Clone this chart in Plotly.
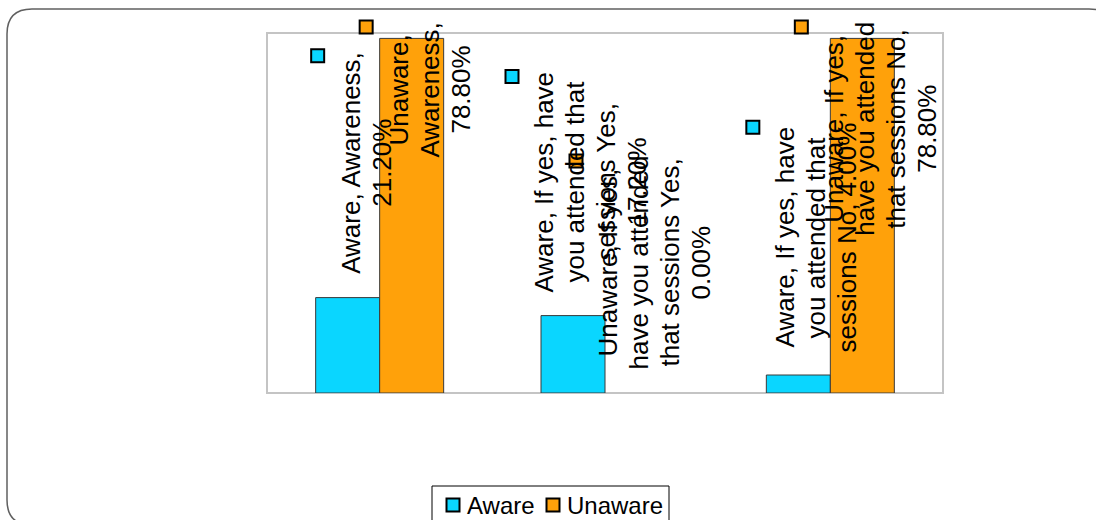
import plotly.graph_objects as go

# ---------------- data ----------------
categories = ["Awareness",
              "If yes, have you attended that sessions Yes",
              "If yes, have you attended that sessions No"]
series_names = ["Aware", "Unaware"]
aware_values = [21.20, 17.20, 4.00]
unaware_values = [78.80, 0.00, 78.80]
series_values = [aware_values, unaware_values]
series_colors = ["#0AD6FF", "#FFA10A"]

# ---------------- layout geometry ----------------
W, H = 1096, 520
ML, MR, MT, MB = 267, 153, 33, 127
PW, PH = W - ML - MR, H - MT - MB
YMAX = 80
XMIN, XMAX = -0.5, 2.5
PX_X = PW / (XMAX - XMIN)   # pixels per x unit
PX_Y = PH / YMAX            # pixels per y unit
BARGAP = 0.432
BAR_W = (1 - BARGAP) / 2    # in x units
FONT = "Liberation Sans, Arial, sans-serif"
LBL_SIZE = 26
LINE_H = 31
MAX_EM = 8.86
KEY = 13  # px size of legend-key squares

# Arial advance widths (em)
AW = {' ': .278, ',': .278, '.': .278, '%': .889, 'A': .667, 'I': .278, 'N': .722,
      'U': .722, 'Y': .667, 'a': .556, 'd': .556, 'e': .556, 'f': .278, 'h': .556,
      'i': .222, 'n': .556, 'o': .556, 'r': .333, 's': .5, 't': .278, 'v': .5,
      'w': .722, 'y': .5}


def em(s):
    return sum(AW.get(c, .556) for c in s)


def wrap(text):
    lines, cur = [], ""
    for word in text.split(" "):
        cand = word if not cur else cur + " " + word
        if em(cand) <= MAX_EM or not cur:
            cur = cand
        else:
            lines.append(cur)
            cur = word
    lines.append(cur)
    return lines


def X(px):
    return (px - ML) / PW


def Y(py):
    return (H - MB - py) / PH


def key_shape(px, py, col):
    h = KEY / 2
    return dict(type="rect", xref="paper", yref="paper",
                x0=X(px - h), x1=X(px + h), y0=Y(py + h), y1=Y(py - h),
                fillcolor=col, line=dict(color="black", width=2), layer="above")


fig = go.Figure()
for name, vals, col in zip(series_names, series_values, series_colors):
    fig.add_trace(go.Bar(
        x=list(range(len(categories))), y=vals, name=name, showlegend=False,
        marker=dict(color=col,
                    line=dict(color="#3a3a3a", width=[1 if v > 0 else 0 for v in vals])),
        hoverinfo="skip",
    ))

annotations = []
shapes = []
for si, (name, vals, col) in enumerate(zip(series_names, series_values, series_colors)):
    for ci, (cat, v) in enumerate(zip(categories, vals)):
        lines = wrap(f"{name}, {cat}, {v:.2f}%")
        n = len(lines)
        half = max(em(l) for l in lines) * LBL_SIZE / 2
        bar_cx = ci + (si - 0.5) * BAR_W
        lbl_cx_px = 18
        # label center, in pixels below the top of the plot area
        top_px = (YMAX - v) * PX_Y
        cy = top_px - 23 - half
        cy = max(cy, (22 - MT) + half)
        y_center = YMAX - cy / PX_Y
        for j, line in enumerate(lines):
            off = (j - (n - 1) / 2) * LINE_H
            annotations.append(dict(
                x=bar_cx, y=y_center, xref="x", yref="y", text=line,
                showarrow=False, textangle=-90, xanchor="center", yanchor="middle",
                xshift=lbl_cx_px + off, font=dict(family=FONT, size=LBL_SIZE, color="black"),
            ))
        # legend key of the data label (page pixels)
        bar_cx_px = ML + (bar_cx - XMIN) * PX_X
        kx = bar_cx_px + lbl_cx_px - (n * LINE_H / 2 + 17)
        ky = MT + cy - half + 5
        shapes.append(key_shape(kx, ky, col))

# rounded outer frame
l, t, r, b, rad = 7, 9, 1114, 525, 25
frame = (f"M {X(l+rad)},{Y(t)} L {X(r-rad)},{Y(t)} Q {X(r)},{Y(t)} {X(r)},{Y(t+rad)} "
         f"L {X(r)},{Y(b-rad)} Q {X(r)},{Y(b)} {X(r-rad)},{Y(b)} "
         f"L {X(l+rad)},{Y(b)} Q {X(l)},{Y(b)} {X(l)},{Y(b-rad)} "
         f"L {X(l)},{Y(t+rad)} Q {X(l)},{Y(t)} {X(l+rad)},{Y(t)} Z")
shapes += [
    dict(type="path", xref="paper", yref="paper", path=frame,
         line=dict(color="#606060", width=1.5), layer="below"),
    dict(type="rect", xref="paper", yref="paper", x0=0, x1=1, y0=0, y1=1,
         line=dict(color="#c4c4c4", width=2), layer="below"),
]

# legend (box, keys, names)
LEG_L, LEG_R, LEG_T, LEG_B, LEG_CY = 432, 669, 486, 540, 505
shapes.append(dict(type="rect", xref="paper", yref="paper",
                   x0=X(LEG_L), x1=X(LEG_R), y0=Y(LEG_B), y1=Y(LEG_T),
                   line=dict(color="black", width=1), fillcolor="white", layer="above"))
leg_key_x = [453, 553]
for name, col, kx in zip(series_names, series_colors, leg_key_x):
    shapes.append(key_shape(kx, LEG_CY, col))
    annotations.append(dict(
        x=X(kx + 12), y=Y(LEG_CY), xref="paper", yref="paper", text=name,
        showarrow=False, xanchor="left", yanchor="middle",
        font=dict(family=FONT, size=24, color="black"),
    ))

fig.update_layout(
    width=W, height=H,
    margin=dict(l=ML, r=MR, t=MT, b=MB, pad=0, autoexpand=False),
    paper_bgcolor="white", plot_bgcolor="white",
    barmode="group", bargap=BARGAP, bargroupgap=0,
    showlegend=False,
    xaxis=dict(range=[XMIN, XMAX], showticklabels=False, ticks="", showgrid=False,
               zeroline=False, showline=False, fixedrange=True),
    yaxis=dict(range=[0, YMAX], showticklabels=False, ticks="", showgrid=False,
               zeroline=False, showline=False, fixedrange=True),
    annotations=annotations,
    shapes=shapes,
)

fig.write_html("out.html", config={"displayModeBar": False},
               post_script="document.body.style.margin='0';")
